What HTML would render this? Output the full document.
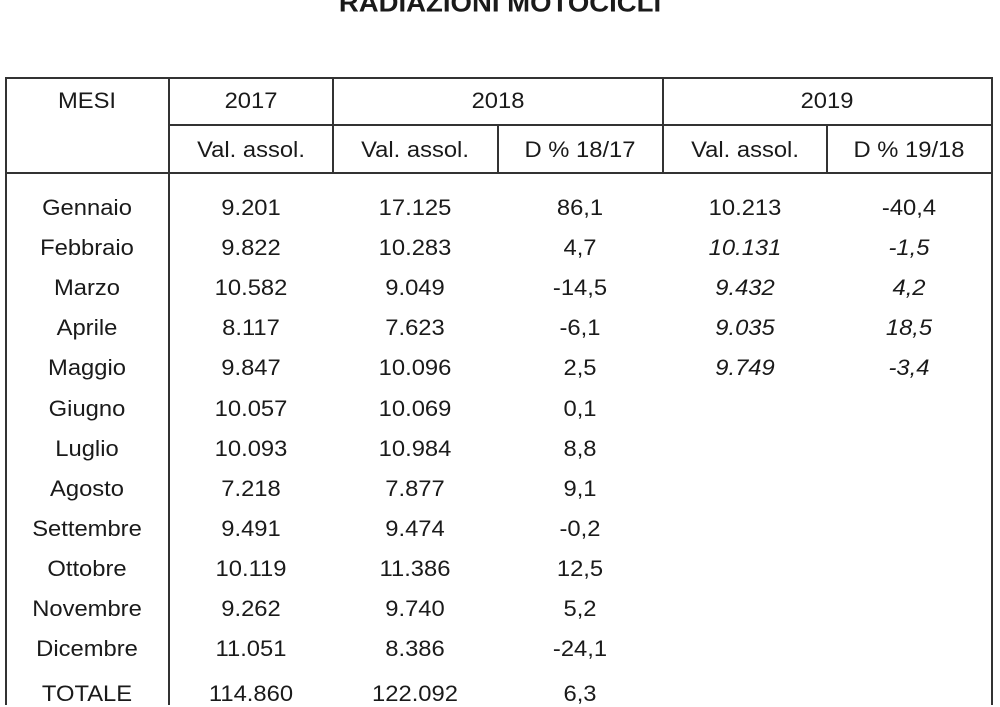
<!DOCTYPE html>
<html><head><meta charset="utf-8"><style>
body{margin:0;width:1000px;height:705px;background:#fff;position:relative;overflow:hidden;font-family:"Liberation Sans",Arial,sans-serif;color:#1a1a1a}
.l{position:absolute;background:#333}
.t{position:absolute;transform:translate(-50%,-50%) scaleX(1.08);font-size:22px;white-space:nowrap}
.i{font-style:italic}
</style></head><body>
<div class="t" style="left:500px;top:4px;font-weight:bold;font-size:25.5px">RADIAZIONI MOTOCICLI</div>
<div class="l" style="left:5px;top:77px;width:988px;height:2px"></div>
<div class="l" style="left:169px;top:124px;width:824px;height:2px"></div>
<div class="l" style="left:5px;top:172px;width:988px;height:2px"></div>
<div class="l" style="left:5px;top:77px;width:2px;height:628px"></div>
<div class="l" style="left:168px;top:77px;width:2px;height:628px"></div>
<div class="l" style="left:991px;top:77px;width:2px;height:628px"></div>
<div class="l" style="left:332px;top:77px;width:2px;height:97px"></div>
<div class="l" style="left:662px;top:77px;width:2px;height:97px"></div>
<div class="l" style="left:497px;top:124px;width:2px;height:50px"></div>
<div class="l" style="left:826px;top:124px;width:2px;height:50px"></div>
<div class="t" style="left:87px;top:101px">MESI</div>
<div class="t" style="left:251px;top:101px">2017</div>
<div class="t" style="left:498px;top:101px">2018</div>
<div class="t" style="left:827px;top:101px">2019</div>
<div class="t" style="left:251px;top:150px">Val. assol.</div>
<div class="t" style="left:415px;top:150px">Val. assol.</div>
<div class="t" style="left:580px;top:150px">D % 18/17</div>
<div class="t" style="left:745px;top:150px">Val. assol.</div>
<div class="t" style="left:909px;top:150px">D % 19/18</div>
<div id="rows"></div>
<script>
var d=[["Gennaio","9.201","17.125","86,1","10.213","-40,4",0],["Febbraio","9.822","10.283","4,7","10.131","-1,5",1],["Marzo","10.582","9.049","-14,5","9.432","4,2",1],["Aprile","8.117","7.623","-6,1","9.035","18,5",1],["Maggio","9.847","10.096","2,5","9.749","-3,4",1],["Giugno","10.057","10.069","0,1"],["Luglio","10.093","10.984","8,8"],["Agosto","7.218","7.877","9,1"],["Settembre","9.491","9.474","-0,2"],["Ottobre","10.119","11.386","12,5"],["Novembre","9.262","9.740","5,2"],["Dicembre","11.051","8.386","-24,1"],["TOTALE","114.860","122.092","6,3"]];
var xs=[87,251,415,580,745,909],h="";
d.forEach(function(r,i){var y=i<12?208+i*40.1:694;for(var j=0;j<6;j++){if(r[j]===undefined)continue;h+='<div class="t'+(j>=4&&r[6]?' i':'')+'" style="left:'+xs[j]+'px;top:'+y+'px">'+r[j]+'</div>';}});
document.getElementById("rows").innerHTML=h;
</script>
</body></html>
